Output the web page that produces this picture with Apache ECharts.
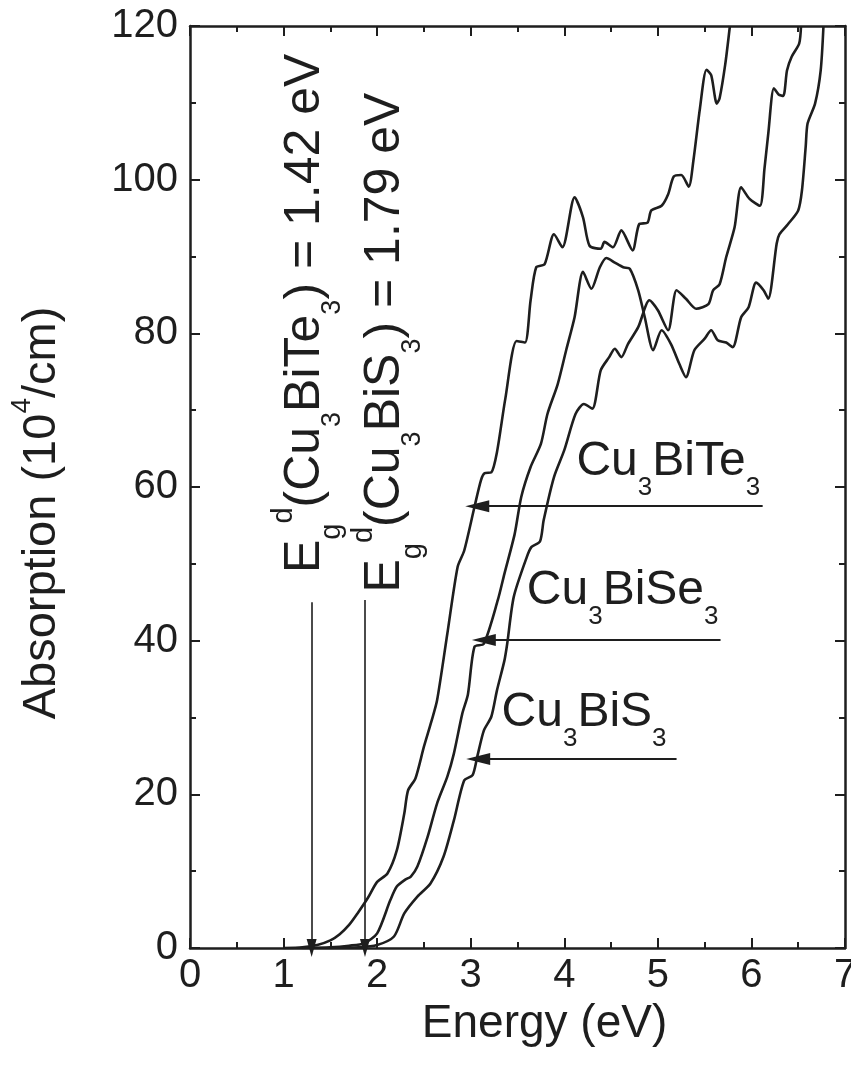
<!DOCTYPE html>
<html>
<head>
<meta charset="utf-8">
<script src="https://cdn.jsdelivr.net/npm/echarts@6/dist/echarts.min.js"></script>
<style>
html,body{margin:0;padding:0;background:#fff;overflow:hidden;}
#main{width:851px;height:1065px;}
</style>
</head>
<body>
<div id="main"></div>
<script>
// Cu3BiTe3 (leftmost edge)
var teEnergy = [1.0,1.2,1.36,1.5,1.6,1.7,1.79,1.9,2.0,2.11,2.21,2.29,2.33,2.41,2.5,2.58,2.64,2.75,2.86,2.93,3.04,3.11,3.15,3.22,3.28,3.37,3.49,3.58,3.64,3.70,3.79,3.89,3.98,4.11,4.20,4.27,4.39,4.43,4.52,4.61,4.73,4.80,4.89,4.93,5.04,5.11,5.17,5.25,5.33,5.38,5.45,5.52,5.57,5.63,5.66,5.72,5.77];
var teAbs    = [0,0.1,0.4,1.0,1.8,3.0,4.5,6.5,8.6,9.7,12.7,17.5,20.5,22.1,26.2,29.5,32.2,40.9,49.6,51.7,57.4,60.9,61.8,61.9,64.5,71.5,79.0,78.8,84.3,88.6,89.0,92.9,91.2,97.7,95.1,91.4,91.0,91.9,91.2,93.4,90.8,94.2,94.4,96.0,96.6,98.1,100.4,100.6,99.1,102.5,109.3,114.3,113.6,109.9,110.6,115,120];

// Cu3BiSe3
var seEnergy = [1.2,1.5,1.7,1.86,2.0,2.14,2.21,2.3,2.36,2.43,2.54,2.64,2.75,2.82,2.91,2.97,3.04,3.14,3.29,3.36,3.47,3.54,3.64,3.75,3.82,3.93,4.02,4.11,4.20,4.29,4.38,4.45,4.54,4.63,4.70,4.79,4.86,4.95,5.04,5.14,5.23,5.30,5.39,5.50,5.57,5.64,5.73,5.80,5.89,5.97,6.05,6.13,6.18,6.27,6.30,6.39,6.50,6.54,6.58,6.60,6.68,6.74,6.77];
var seAbs    = [0,0.1,0.3,0.6,1.9,6.2,8.0,8.9,9.3,10.6,14.5,18.8,22.3,25.3,30.5,33.0,39.2,39.6,45.3,48.7,53.9,58.7,62.6,65.6,69.5,73.4,77.8,82.1,88.0,85.8,88.6,89.8,89.2,88.6,88.4,85.6,82.1,77.8,80.4,78.6,76.0,74.3,77.8,79.3,80.4,79.1,78.8,78.2,82.1,83.4,86.6,85.6,84.5,91.7,92.9,94.2,96.0,98.6,104.3,107.3,109.9,114.2,120];

// Cu3BiS3
var sEnergy = [1.5,1.8,2.0,2.18,2.29,2.43,2.57,2.71,2.82,2.93,3.02,3.07,3.14,3.22,3.28,3.36,3.39,3.46,3.60,3.65,3.74,3.78,3.89,4.0,4.12,4.21,4.30,4.39,4.48,4.54,4.61,4.68,4.79,4.91,5.0,5.11,5.20,5.30,5.41,5.54,5.59,5.66,5.73,5.82,5.89,5.98,6.09,6.14,6.18,6.24,6.29,6.34,6.38,6.43,6.51,6.53];
var sAbs    = [0,0.1,0.4,1.5,4.5,6.7,8.4,11.9,16.6,21.8,22.5,24.9,28.3,30.1,33.5,37.4,39.6,45.7,50.9,52.2,52.9,55.7,61.3,64.8,69.5,70.8,70.2,75.2,76.9,78.0,76.9,78.6,80.8,84.3,83.0,80.4,85.6,84.5,83.2,83.8,85.6,86.4,89.9,93.8,99.0,97.5,96.6,101.5,106,111.9,111.1,110.9,114.2,116,117.7,120];

// arrows: [x from, y from, x to, y to]
var arrows = [
  [6.12, 57.5, 3.07, 57.5],
  [5.67, 40.1, 3.14, 40.1],
  [5.20, 24.6, 3.08, 24.6],
  [1.30, 45.0, 1.30, 0],
  [1.87, 45.3, 1.87, 0]
];

var xTicks = [0, 7, 1];
var yTicks = [0, 120, 20];

var FONT = 'Liberation Sans, Arial, Helvetica, sans-serif';
var INK = '#1e1e1e';

function pairs(xs, ys){
  var out = [];
  for (var i = 0; i < xs.length; i++) out.push([xs[i], ys[i]]);
  return out;
}

// rich styles, sz = main font size
function makeRich(sz){
  var k = sz / 46;
  return {
    m: {fontSize: sz, fontFamily: FONT, color: INK, lineHeight: 64},
    s: {fontSize: Math.round(25*k), fontFamily: FONT, color: INK, lineHeight: 64, padding: [Math.round(50*k),0,0,0]},
    g: {fontSize: Math.round(27*k), fontFamily: FONT, color: INK, lineHeight: 64, padding: [Math.round(50*k),0,0,0]},
    d: {fontSize: Math.round(27*k), fontFamily: FONT, color: INK, lineHeight: 64, padding: [0,0,Math.round(40*k),0]}
  };
}

// text annotations
var notes = [
  {pos: [4.13, 63.3], text: '{m|Cu}{s|3}{m|BiTe}{s|3}', rotate: 0},
  {pos: [3.60, 46.5], text: '{m|Cu}{s|3}{m|BiSe}{s|3}', rotate: 0},
  {pos: [3.33, 30.6], text: '{m|Cu}{s|3}{m|BiS}{s|3}', rotate: 0},
  {pos: [1.23, 82.6], text: '{m|E}{g|g}{d|d}{m|(Cu}{s|3}{m|BiTe}{s|3}{m|) = 1.42 eV}', rotate: 90},
  {pos: [2.09, 78.8], text: '{m|E}{g|g}{d|d}{m|(Cu}{s|3}{m|BiS}{s|3}{m|) = 1.79 eV}', rotate: 90}
];

var chart = echarts.init(document.getElementById('main'));

function lineSeries(name, xs, ys){
  return {
    name: name,
    type: 'line',
    data: pairs(xs, ys),
    showSymbol: false,
    smooth: 0.25,
    lineStyle: {color: INK, width: 2.6},
    z: 3
  };
}

var noteData = notes.map(function(n){
  var lab = {
    show: true,
    opacity: 1,
    color: INK,
    formatter: n.text
  };
  if (n.rotate) {
    lab.rich = makeRich(50);
    lab.position = 'inside';
    lab.rotate = 90;
    lab.align = 'center';
    lab.verticalAlign = 'middle';
  } else {
    lab.rich = makeRich(48);
    lab.position = 'right';
    lab.distance = 0;
  }
  return {value: n.pos, label: lab};
});

var arrowData = arrows.map(function(a){
  var vertical = a[0] === a[2];
  return [
    {coord: [a[0], a[1]], symbol: 'none'},
    {coord: [a[2], a[3]], symbol: 'triangle',
     symbolSize: vertical ? [10, 18] : [12, 24],
     lineStyle: {width: vertical ? 1.6 : 2.2, color: INK, type: 'solid'}}
  ];
});

var axisCommon = {
  type: 'value',
  axisLine: {show: true, onZero: false, lineStyle: {color: INK, width: 2.5}},
  axisTick: {show: true, inside: true, length: 10, lineStyle: {color: INK, width: 2}},
  minorTick: {show: true, splitNumber: 2, length: 6, lineStyle: {color: INK, width: 2}},
  splitLine: {show: false}
};

var option = {
  animation: false,
  backgroundColor: '#fff',
  grid: {left: 190, right: 6, top: 26, bottom: 117, containLabel: false, outerBoundsMode: 'none'},
  xAxis: [
    echarts.util.merge({
      min: xTicks[0], max: xTicks[1], interval: xTicks[2],
      position: 'bottom',
      axisLabel: {fontSize: 40, fontFamily: FONT, color: INK, margin: 8},
      name: 'Energy (eV)',
      nameLocation: 'middle',
      nameGap: 42,
      nameTextStyle: {fontSize: 46, fontFamily: FONT, color: INK, padding: [0,0,0,54]}
    }, axisCommon, true),
    echarts.util.merge({
      min: xTicks[0], max: xTicks[1], interval: xTicks[2],
      position: 'top',
      axisLabel: {show: false}
    }, axisCommon, true)
  ],
  yAxis: [
    echarts.util.merge({
      min: yTicks[0], max: yTicks[1], interval: yTicks[2],
      position: 'left',
      axisLabel: {fontSize: 40, fontFamily: FONT, color: INK, margin: 12},
      name: 'Absorption (10{sup|4}/cm)',
      nameLocation: 'middle',
      nameGap: 120,
      nameTextStyle: {
        fontSize: 47, fontFamily: FONT, color: INK, lineHeight: 56,
        padding: [0,52,0,0],
        rich: {sup: {fontSize: 28, fontFamily: FONT, color: INK, lineHeight: 56, padding: [0,0,39,0]}}
      }
    }, axisCommon, true),
    echarts.util.merge({
      min: yTicks[0], max: yTicks[1], interval: yTicks[2],
      position: 'right',
      axisLabel: {show: false}
    }, axisCommon, true)
  ],
  series: [
    lineSeries('Cu3BiTe3', teEnergy, teAbs),
    lineSeries('Cu3BiSe3', seEnergy, seAbs),
    lineSeries('Cu3BiS3', sEnergy, sAbs),
    {
      type: 'scatter',
      symbolSize: 0,
      silent: true,
      itemStyle: {opacity: 1},
      data: noteData,
      z: 4,
      markLine: {
        silent: true,
        animation: false,
        label: {show: false},
        lineStyle: {color: INK, width: 2, type: 'solid'},
        data: arrowData
      }
    }
  ]
};

chart.setOption(option);
</script>
</body>
</html>
